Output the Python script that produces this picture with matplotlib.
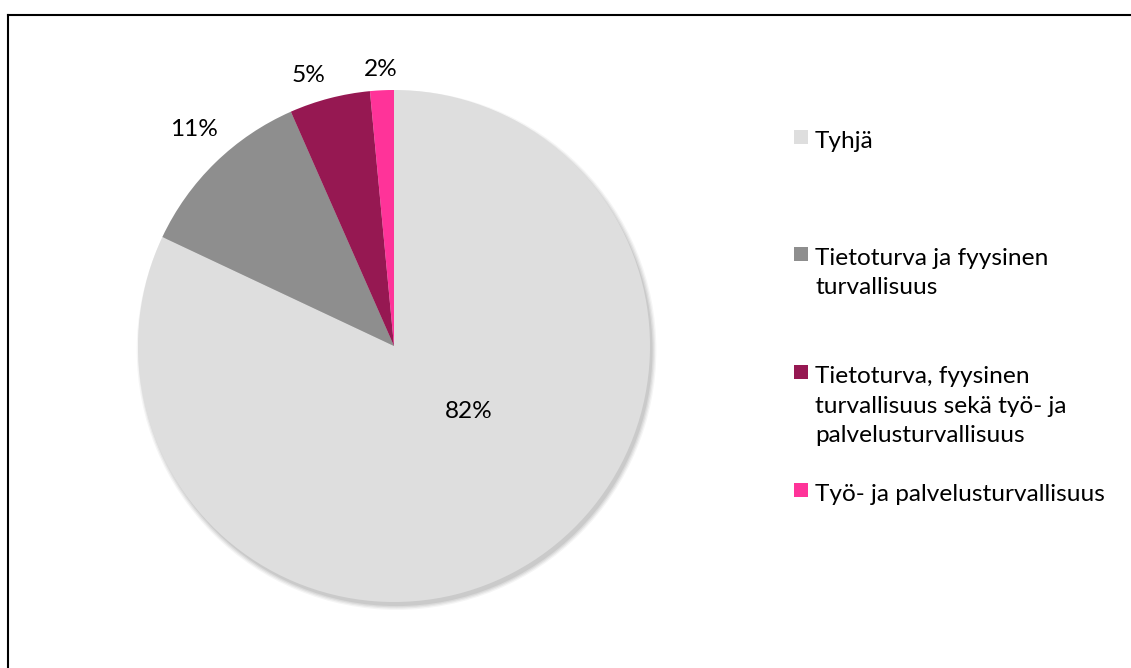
import numpy as np
import matplotlib
matplotlib.use("Agg")
import matplotlib.pyplot as plt
from matplotlib.patches import Rectangle, Circle
from matplotlib.lines import Line2D

# Data
categories = ["Tyhjä",
              "Tietoturva ja fyysinen\nturvallisuus",
              "Tietoturva, fyysinen\nturvallisuus sekä työ- ja\npalvelusturvallisuus",
              "Työ- ja palvelusturvallisuus"]
values = [82.0, 11.4, 5.1, 1.5]
pct_labels = ["82%", "11%", "5%", "2%"]
colors = ["#DEDEDE", "#8E8E8E", "#961852", "#FF3399"]

W, H = 1131, 668
fig = plt.figure(figsize=(W / 100, H / 100), dpi=100)
plt.rcParams['font.family'] = ['Lato', 'DejaVu Sans']

# frame lines (top and left)
fig.add_artist(Line2D([8 / W, 1], [1 - 15 / H, 1 - 15 / H], color="black", lw=1.5, transform=fig.transFigure))
fig.add_artist(Line2D([8 / W, 8 / W], [0, 1 - 15 / H], color="black", lw=1.5, transform=fig.transFigure))

cx, cy, r = 394, 346, 256
ax = fig.add_axes([(cx - r) / W, (H - cy - r) / H, 2 * r / W, 2 * r / H])
ax.set_xlim(-1, 1)
ax.set_ylim(-1, 1)
ax.set_aspect("equal")
ax.axis("off")

# soft shadow
for i, a in enumerate([0.04, 0.05, 0.06, 0.07]):
    ax.add_patch(Circle((0.010, -0.016), 1.0 + 0.005 * (3 - i), color="black", alpha=a, lw=0,
                        zorder=0, clip_on=False))

wedges, _ = ax.pie(values, colors=colors, startangle=90, counterclock=False,
                   radius=1.0, wedgeprops=dict(linewidth=0, clip_on=False), frame=False)
ax.set_xlim(-1, 1)
ax.set_ylim(-1, 1)

label_r = [0.39, 1.15, 1.11, 1.08]
label_dang = [16.5, -1.5, 3, 0]
for w, lab, lr, da in zip(wedges, pct_labels, label_r, label_dang):
    th = np.deg2rad((w.theta1 + w.theta2) / 2 + da)
    ax.text(lr * np.cos(th), lr * np.sin(th), lab, ha="center", va="center", fontsize=17.6, color="black")

# legend (manual)
sq = 14
leg_top = [130, 247, 365, 483]
for y, c, lab in zip(leg_top, colors, categories):
    fig.add_artist(Rectangle((794 / W, 1 - (y + sq) / H), sq / W, sq / H, color=c, transform=fig.transFigure, lw=0))
    fig.text(815 / W, 1 - (y + 1) / H, lab, ha="left", va="top", fontsize=17.6, linespacing=1.5)

fig.savefig("out.png", dpi=100)
